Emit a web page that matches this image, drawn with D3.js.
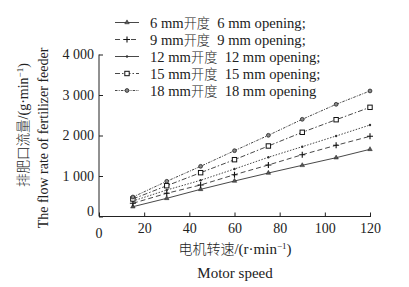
<!DOCTYPE html>
<html>
<head>
<meta charset="utf-8">
<script src="https://cdn.jsdelivr.net/npm/d3@7"></script>
<style>
  body { margin: 0; background: #fff; }
  text { font-family: "Liberation Serif", "Noto Sans CJK SC", serif; fill: #222; white-space: pre; }
  .cjk { font-family: "Noto Sans CJK SC", sans-serif; font-weight: 300; }
</style>
</head>
<body>
<div id="root"></div>
<script>
// Motor speed (r/min)
const speeds = [15, 30, 45, 60, 75, 90, 105, 120];
// Flow rate (g/min) for each opening
const flow6  = [242, 449, 671, 877, 1074, 1264, 1452, 1659];
const flow9  = [326, 573, 778, 1032, 1272, 1526, 1758, 1980];
const flow12 = [383, 654, 894, 1173, 1462, 1724, 1988, 2259];
const flow15 = [432, 760, 1082, 1403, 1741, 2079, 2390, 2696];
const flow18 = [481, 869, 1239, 1625, 2005, 2400, 2770, 3100];
const openings = ["6", "9", "12", "15", "18"];
const xTicks = [0, 20, 40, 60, 80, 100, 120];
const yTicks = [0, 1000, 2000, 3000, 4000];

const W = 409, H = 287;
const svg = d3.select("#root").append("svg")
  .attr("width", W).attr("height", H);

const x = d3.scaleLinear().domain([0, 120]).range([99, 370]);
const y = d3.scaleLinear().domain([0, 4000]).range([216.5, 54.5]);

// line style + marker kind per series
const styles = [
  {dash: null, mark: "tri"},
  {dash: "5,3", mark: "plus"},
  {dash: "1.5,1.5", mark: "dot"},
  {dash: "5,2,1.5,2", mark: "square"},
  {dash: "2.5,1.2,1,1.2", mark: "circle"}
];
const series = [flow6, flow9, flow12, flow15, flow18].map((v, i) => ({
  mm: openings[i], values: v, ...styles[i]
}));

//Axes, ticks pointing inward
const fmt = d => d3.format(",")(d).replace(",", " ");
svg.append("g")
  .attr("transform", `translate(0,${y(0)})`)
  .call(d3.axisBottom(x).tickValues(xTicks).tickSize(-4).tickPadding(7).tickFormat(d => d === 0 ? "" : d))
  .call(g => g.select(".domain").attr("stroke", "#222").attr("d", `M${x(0)},0H${x(120) + 1}`))
  .call(g => g.selectAll("line").attr("stroke", "#222"))
  .call(g => g.selectAll("text").attr("font-size", 14).attr("fill", "#222"));
svg.append("text").attr("x", x(0)).attr("y", y(0) + 21)
  .attr("text-anchor", "middle").attr("font-size", 14).text("0");

svg.append("g")
  .attr("transform", `translate(${x(0)},0)`)
  .call(d3.axisLeft(y).tickValues(yTicks).tickSize(-4).tickPadding(5).tickFormat(fmt))
  .call(g => g.select(".domain").attr("stroke", "#222").attr("d", `M0,${y(0)}V${y(4000)}`))
  .call(g => g.selectAll("line").attr("stroke", "#222"))
  .call(g => g.selectAll("text").attr("font-size", 14).attr("fill", "#222"))
  .call(g => g.selectAll(".tick").filter(d => d === 0).select("text").attr("dy", "-0.1em"));

//Lines
const line = d3.line().x((d, i) => x(speeds[i])).y(d => y(d));
svg.selectAll("path.series")
  .data(series)
  .join("path")
  .attr("class", "series")
  .attr("fill", "none")
  .attr("stroke", "#333")
  .attr("stroke-width", 0.9)
  .attr("stroke-dasharray", d => d.dash)
  .attr("d", d => line(d.values));

function drawMarker(g, kind, cx, cy) {
  if (kind === "tri") {
    g.append("path").attr("d", d3.symbol(d3.symbolTriangle, 9)())
      .attr("transform", `translate(${cx},${cy})`).attr("fill", "#555").attr("stroke", "#222").attr("stroke-width", 0.5);
  } else if (kind === "plus") {
    g.append("path").attr("d", `M${cx - 3},${cy}H${cx + 3}M${cx},${cy - 3}V${cy + 3}`)
      .attr("stroke", "#111").attr("stroke-width", 1.1);
  } else if (kind === "dot") {
    g.append("circle").attr("cx", cx).attr("cy", cy).attr("r", 1.2).attr("fill", "#333");
  } else if (kind === "square") {
    g.append("rect").attr("x", cx - 2.2).attr("y", cy - 2.2).attr("width", 4.4).attr("height", 4.4)
      .attr("fill", "#fff").attr("stroke", "#111").attr("stroke-width", 1);
  } else {
    g.append("circle").attr("cx", cx).attr("cy", cy).attr("r", 1.9)
      .attr("fill", "#888").attr("stroke", "#222").attr("stroke-width", 0.8);
  }
}

//Markers
series.forEach(s => {
  const g = svg.append("g");
  s.values.forEach((v, i) => drawMarker(g, s.mark, x(speeds[i]), y(v)));
});

//Legend (rows are tight in the original, ~17px apart)
const legendY = d3.scalePoint().domain(d3.range(series.length)).range([22.5, 90.5]);
series.forEach((s, i) => {
  const ly = legendY(i);
  const g = svg.append("g");
  g.append("line").attr("x1", 115).attr("x2", 139).attr("y1", ly).attr("y2", ly)
    .attr("stroke", "#333").attr("stroke-width", 0.9)
    .attr("stroke-dasharray", i === 2 ? null : s.dash);
  drawMarker(g, s.mark, 127, ly);
  const t = g.append("text").attr("x", 150).attr("y", ly).attr("dy", "0.35em").attr("font-size", 14.6);
  t.append("tspan").text(`${s.mm} mm`);
  t.append("tspan").attr("class", "cjk").attr("font-size", 13.2).text("开度");
  t.append("tspan").text(`  ${s.mm} mm opening${i < series.length - 1 ? ";" : ""}`);
});

//Axis titles
const xt = svg.append("text").attr("x", 235).attr("y", 254).attr("text-anchor", "middle").attr("font-size", 15);
xt.append("tspan").attr("class", "cjk").attr("font-size", 14).text("电机转速");
xt.append("tspan").text("/(r·min");
xt.append("tspan").attr("dy", -5).attr("font-size", 9).text("−1");
xt.append("tspan").attr("dy", 5).text(")");
svg.append("text").attr("x", 235).attr("y", 278).attr("text-anchor", "middle").attr("font-size", 15).text("Motor speed");

const yt = svg.append("text").attr("transform", "translate(28,125) rotate(-90)").attr("text-anchor", "middle").attr("font-size", 14);
yt.append("tspan").attr("class", "cjk").attr("font-size", 13.5).text("排肥口流量");
yt.append("tspan").text("/(g·min");
yt.append("tspan").attr("dy", -5).attr("font-size", 9).text("−1");
yt.append("tspan").attr("dy", 5).text(")");
svg.append("text").attr("transform", "translate(48,138) rotate(-90)").attr("text-anchor", "middle").attr("font-size", 14)
  .text("The flow rate of fertilizer feeder");
</script>
</body>
</html>
